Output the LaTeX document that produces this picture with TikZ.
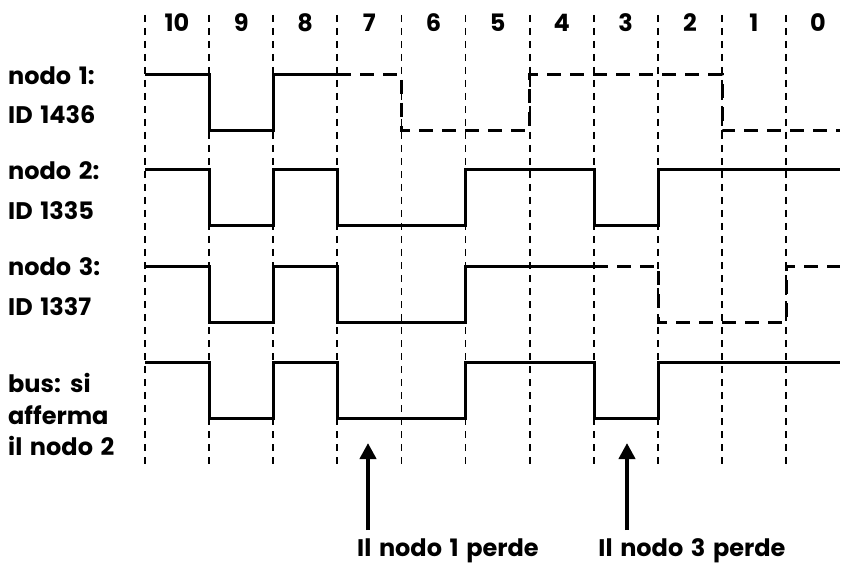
\documentclass[tikz,border=0pt]{standalone}
\usepackage{fontspec}
\setmainfont{Poppins}[WordSpace=1.5]
\usetikzlibrary{arrows.meta}

\begin{document}
\begin{tikzpicture}
[x=1pt,y=-1pt,%
  grid/.style={line width=1.8pt,dash pattern=on 7pt off 6pt},%
  wave/.style={line width=3pt},%
  lost/.style={wave,dash pattern=on 14pt off 9pt},%
  txt/.style={inner sep=0pt,font=\bfseries\fontsize{24}{29}\selectfont},%
  lbl/.style={txt,anchor=base west},%
  bit/.style={txt,anchor=base},%
  pointer/.style={line width=4pt,-{Triangle[width=16pt,length=16pt]}}]
\useasboundingbox (0,0) rectangle (847,567);
% bit cells, MSB first
\foreach \i in {0,...,10} {
  \draw[grid] ({145+64.1*\i},15) -- ({145+64.1*\i},468);
  \pgfmathtruncatemacro\bitval{10-\i}
  \node[bit] (b\bitval) at ({145+64.1*(\i+0.5)},32) {\bitval};
}
% row labels
\node[lbl] (n1) at (8,85) {nodo 1:};
\node[lbl] (id1) at (8,124) {ID 1436};
\node[lbl] (n2) at (8,180) {nodo 2:};
\node[lbl] (id2) at (8,219) {ID 1335};
\node[lbl] (n3) at (8,276) {nodo 3:};
\node[lbl] (id3) at (8,315) {ID 1337};
\node[lbl] (bus) at (8,392) {bus: si};
\node[lbl] (bus2) at (8,424) {afferma};
\node[lbl] (bus3) at (8,455) {il nodo 2};
% nodo 1
\draw[wave] (145,75) -| (209,131) -| (273,75) -- (337,75);
\draw[lost] (337,75) -| (401,131) -| (529,75) -| (722,131) -- (840,131);
% nodo 2 and bus carry the same bits
\foreach \hi in {170,362} {
  \pgfmathsetmacro\lo{\hi+56}
  \draw[wave] (145,\hi) -| (209,\lo) -| (273,\hi) -| (337,\lo)
    -| (465,\hi) -| (594,\lo) -| (658,\hi) -- (840,\hi);
}
% nodo 3
\draw[wave] (145,266) -| (209,322) -| (273,266) -| (337,322) -| (465,266) -- (594,266);
\draw[lost] (594,266) -| (658,322) -| (786,266) -- (840,266);
% lost arbitration
\coordinate (s1) at (368,530);
\coordinate (t1) at (368,443);
\coordinate (s2) at (627,530);
\coordinate (t2) at (627,443);
\draw[pointer] (s1) -- (t1);
\draw[pointer] (s2) -- (t2);
\node[txt,anchor=base] (p1) at (448,556) {Il nodo 1 perde};
\node[txt,anchor=base] (p2) at (692,556) {Il nodo 3 perde};
\end{tikzpicture}
\end{document}
